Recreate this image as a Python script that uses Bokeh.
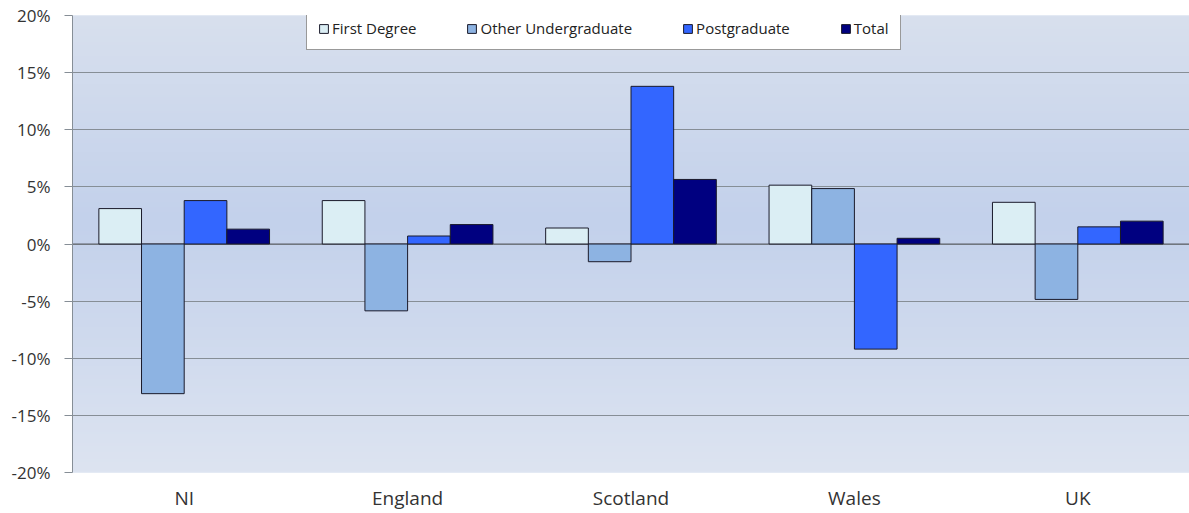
import numpy as np
from bokeh.plotting import figure
from bokeh.models import (FactorRange, Range1d, FixedTicker, PrintfTickFormatter,
                          Legend, LegendItem, Span)
from bokeh.transform import dodge
from bokeh.embed import file_html
from bokeh.resources import INLINE

# ---- data ----
regions = ["NI", "England", "Scotland", "Wales", "UK"]
series = ["First Degree", "Other Undergraduate", "Postgraduate", "Total"]
first_degree = [3.1, 3.8, 1.4, 5.15, 3.65]
other_undergraduate = [-13.1, -5.85, -1.55, 4.85, -4.85]
postgraduate = [3.8, 0.7, 13.8, -9.2, 1.5]
total = [1.3, 1.7, 5.65, 0.5, 2.0]
y_ticks = [-20, -15, -10, -5, 0, 5, 10, 15, 20]

colors = ["#dbeef4", "#8db3e2", "#3366ff", "#000080"]
FONT = "Open Sans"
Y_MIN, Y_MAX = -20, 20

p = figure(x_range=FactorRange(*regions, range_padding=0),
           y_range=Range1d(Y_MIN, Y_MAX),
           width=1189, height=513, output_backend="svg", toolbar_location=None,
           min_border_left=72, min_border_right=0, min_border_top=15,
           min_border_bottom=41)
p.outline_line_color = None
p.background_fill_color = "#d0dbee"
p.border_fill_color = "white"

# gradient plot-area background
ys = np.linspace(Y_MIN, Y_MAX, 200)
light_top = np.array([216, 224, 238])
light_bot = np.array([221, 228, 241])
dark = np.array([195, 209, 235])
img = np.zeros((len(ys), 1), dtype=np.uint32)
view = img.view(dtype=np.uint8).reshape((len(ys), 1, 4))
for i, yv in enumerate(ys):
    if yv >= 2:
        t = (yv - 2) / (Y_MAX - 2)
        c = dark + (light_top - dark) * t
    else:
        t = (2 - yv) / (2 - Y_MIN)
        c = dark + (light_bot - dark) * t
    view[i, 0, 0:3] = c.astype(np.uint8)
    view[i, 0, 3] = 255
p.image_rgba(image=[img], x=0, y=Y_MIN, dw=len(regions), dh=Y_MAX - Y_MIN,
             level="image")

data = dict(region=regions, fd=first_degree, oug=other_undergraduate,
            pg=postgraduate, tot=total)
bw = 0.191
keys = ["fd", "oug", "pg", "tot"]
offsets = [-1.5 * bw, -0.5 * bw, 0.5 * bw, 1.5 * bw]
renderers = []
for k, off, col in zip(keys, offsets, colors):
    r = p.vbar(x=dodge("region", off, range=p.x_range), top=k, bottom=0,
               width=bw, source=data, fill_color=col, line_color="#1a1a2a",
               line_width=1)
    renderers.append(r)

# zero line
p.add_layout(Span(location=0, dimension="width", line_color="#5a5f66",
                  line_width=1, level="underlay"))

# axes
p.yaxis.ticker = FixedTicker(ticks=y_ticks)
p.yaxis.formatter = PrintfTickFormatter(format="%d%%")
p.yaxis.axis_line_color = "#868e96"
p.yaxis.major_tick_line_color = "#868e96"
p.yaxis.major_tick_out = 8
p.yaxis.major_tick_in = 0
p.yaxis.minor_tick_line_color = None
p.yaxis.major_label_standoff = 14
p.yaxis.major_label_text_font = FONT
p.yaxis.major_label_text_font_size = "17px"
p.yaxis.major_label_text_color = "#333333"

p.xaxis.axis_line_color = None
p.xaxis.major_tick_line_color = None
p.xaxis.major_tick_out = 0
p.xaxis.major_label_standoff = 12
p.xaxis.major_label_text_font = FONT
p.xaxis.major_label_text_font_size = "19px"
p.xaxis.major_label_text_color = "#333333"

p.xgrid.grid_line_color = None
p.ygrid.grid_line_color = "#868e96"
p.ygrid.grid_line_width = 1
p.ygrid.ticker = FixedTicker(ticks=y_ticks)

legend = Legend(items=[LegendItem(label=s, renderers=[r]) for s, r in zip(series, renderers)],
                orientation="horizontal", location=(234, 422),
                label_text_font=FONT, label_text_font_size="15px",
                label_text_color="#222222",
                glyph_width=11, glyph_height=11, label_standoff=3,
                label_height=11, spacing=50, padding=11, margin=0,
                border_line_color="#333333", border_line_width=1,
                background_fill_color="white", background_fill_alpha=1)
p.add_layout(legend, "center")

open("out.html", "w").write(file_html(p, INLINE))
